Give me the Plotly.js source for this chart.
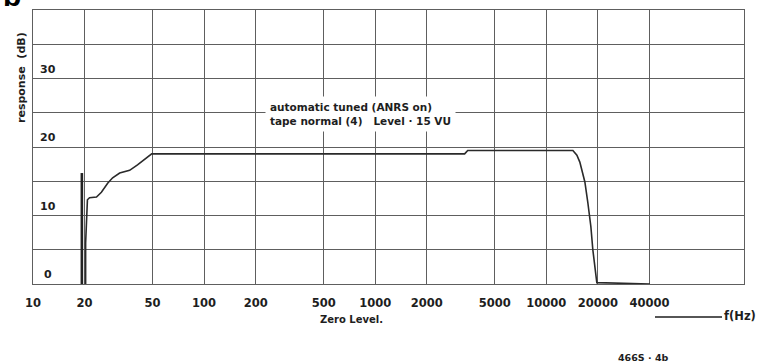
<!DOCTYPE html>
<html>
<head>
<meta charset="utf-8">
<script src="https://cdn.plot.ly/plotly-3.0.1.min.js"></script>
<style>html,body{margin:0;padding:0;background:#fff;}#chart{width:764px;height:364px;}</style>
</head>
<body>
<div id="chart"></div>
<script>
// Frequency response (ANRS on)
const freqHz = [20.3, 20.3, 20.8, 21.4, 23.5, 25.1, 27.3, 29.2, 32.1, 36.7, 40.8, 44.9, 48.0, 49.4,
                3330, 3470, 14290, 15080, 15690, 16350, 16790, 17470, 18200, 18690, 19190, 19720, 40300];
const responseDb = [0, 6.0, 12.3, 12.6, 12.7, 13.4, 14.7, 15.5, 16.2, 16.6, 17.4, 18.2, 18.8, 19.0,
                    19.0, 19.5, 19.5, 18.8, 17.8, 16.2, 14.9, 11.9, 8.4, 5.0, 2.6, 0.2, 0];
// Vertical marker spike at ~20 Hz
const spikeHz = [19.3, 19.3];
const spikeDb = [0, 16.2];

const xTickVals = [10, 20, 50, 100, 200, 500, 1000, 2000, 5000, 10000, 20000, 40000];
const xTickText = ['10', '20', '50', '100', '200', '500', '1000', '2000', '5000', '10000', '20000', '40000'];
const yGridVals = [0, 5, 10, 15, 20, 25, 30, 35, 40];
const yLabelVals = [0, 10, 20, 30];
const yLabelText = ['0', '10', '20', '30'];

const FONT = 'DejaVu Sans, Liberation Sans, Arial, sans-serif';
const INK = '#1e1e1e';
const GRID = '#5e5e5e';

const traces = [
  {x: spikeHz, y: spikeDb, mode: 'lines', line: {color: '#222', width: 2.6}, hoverinfo: 'skip', showlegend: false},
  {x: freqHz, y: responseDb, mode: 'lines', line: {color: '#2a2a2a', width: 1.6}, hoverinfo: 'skip', showlegend: false}
];

const annotations = yLabelVals.map((v, i) => ({
  text: yLabelText[i], xref: 'paper', yref: 'y', x: 0.0205, y: v,
  xanchor: 'center', yanchor: 'bottom', yshift: 1, showarrow: false,
  font: {family: FONT, size: 11, color: INK, weight: 'bold'}
}));

annotations.push(
  {text: 'automatic tuned (ANRS on)<br>tape normal (4)   Level · 15 VU', xref: 'paper', yref: 'paper',
   x: (265 - 33) / 711, y: 1 - (96 - 10) / 274, xanchor: 'left', yanchor: 'top', align: 'left',
   showarrow: false, bgcolor: '#ffffff', borderpad: 4,
   font: {family: FONT, size: 10.5, color: INK, weight: 'bold'}},
  {text: 'response  (dB)', xref: 'paper', yref: 'paper', x: (21 - 33) / 711, y: 1 - (78 - 10) / 274,
   xanchor: 'center', yanchor: 'middle', textangle: -90, showarrow: false,
   font: {family: FONT, size: 11, color: INK, weight: 'bold'}},
  {text: 'Zero Level.', xref: 'paper', yref: 'paper', x: (351 - 33) / 711, y: -(319 - 284) / 274,
   xanchor: 'center', yanchor: 'middle', showarrow: false,
   font: {family: FONT, size: 10, color: INK, weight: 'bold'}},
  {text: 'f(Hz)', xref: 'paper', yref: 'paper', x: (722 - 33) / 711, y: -(316 - 284) / 274,
   xanchor: 'left', yanchor: 'middle', showarrow: false,
   font: {family: FONT, size: 11.5, color: INK, weight: 'bold'}},
  {text: '466S · 4b', xref: 'paper', yref: 'paper', x: (643 - 33) / 711, y: -(357 - 284) / 274,
   xanchor: 'center', yanchor: 'middle', showarrow: false,
   font: {family: FONT, size: 9.5, color: INK, weight: 'bold'}},
  {text: 'b', xref: 'paper', yref: 'paper', x: (12 - 33) / 711, y: 1 + (10 - 14) / 274,
   xanchor: 'center', yanchor: 'bottom', showarrow: false,
   font: {family: 'Liberation Sans, Arial, sans-serif', size: 30, color: '#000', weight: 'bold'}}
);

const layout = {
  width: 764, height: 364,
  margin: {l: 33, r: 20, t: 10, b: 80},
  paper_bgcolor: '#ffffff', plot_bgcolor: '#ffffff',
  showlegend: false,
  xaxis: {
    type: 'log', range: [1, 5.155],
    tickvals: xTickVals, ticktext: xTickText, ticks: '',
    showgrid: true, gridcolor: GRID, gridwidth: 1,
    showline: true, linecolor: GRID, linewidth: 1.2, mirror: true,
    zeroline: false, ticklabelstandoff: 8,
    tickfont: {family: FONT, size: 11.5, color: INK, weight: 'bold'}
  },
  yaxis: {
    range: [0, 40], tickvals: yGridVals, showticklabels: false, ticks: '',
    showgrid: true, gridcolor: GRID, gridwidth: 1,
    showline: true, linecolor: GRID, linewidth: 1.2, mirror: true, zeroline: false
  },
  shapes: [
    {type: 'line', xref: 'paper', yref: 'paper', x0: (655 - 33) / 711, x1: (722 - 33) / 711,
     y0: -(317 - 284) / 274, y1: -(317 - 284) / 274, line: {color: INK, width: 1.5}}
  ],
  annotations: annotations
};

Plotly.newPlot('chart', traces, layout, {staticPlot: true, displayModeBar: false});
</script>
</body>
</html>
